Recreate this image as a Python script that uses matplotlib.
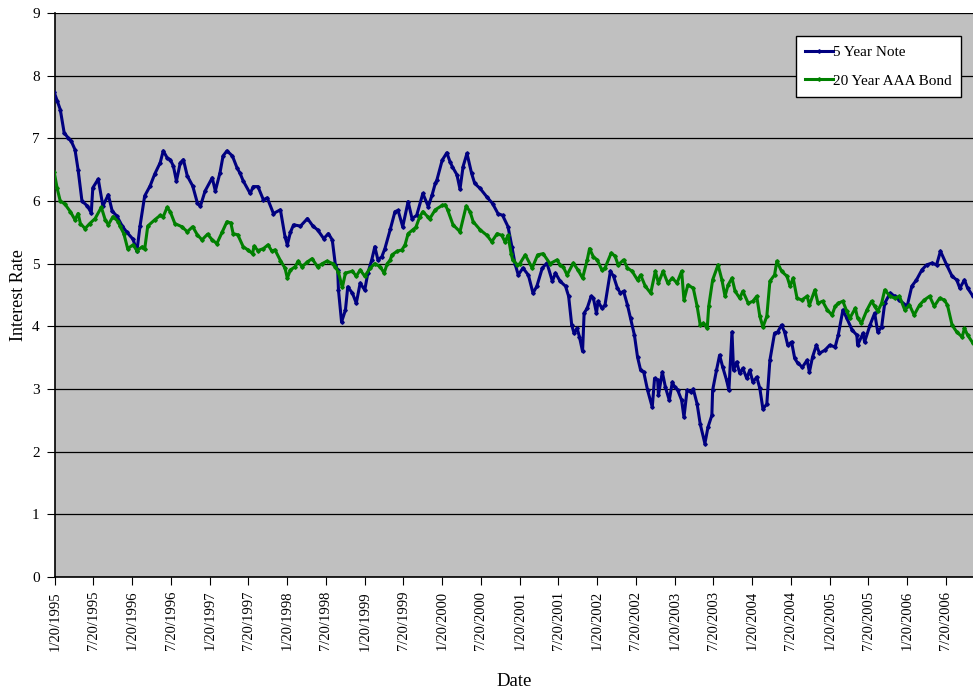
import matplotlib
matplotlib.use('Agg')
import matplotlib.pyplot as plt
from datetime import datetime, timedelta

plt.rcParams['font.family'] = ['Liberation Serif', 'DejaVu Serif']

# dates as decimal years, values in percent
note_t = [1995.04, 1995.08, 1995.12, 1995.17, 1995.22, 1995.26, 1995.31, 1995.35, 1995.40, 1995.47,
          1995.52, 1995.54, 1995.61, 1995.67, 1995.74, 1995.79, 1995.85, 1995.92, 1995.98, 1996.06,
          1996.11, 1996.15, 1996.21, 1996.28, 1996.34, 1996.41, 1996.45, 1996.50, 1996.54, 1996.58,
          1996.62, 1996.67, 1996.71, 1996.76, 1996.83, 1996.89, 1996.93, 1996.99, 1997.08, 1997.12,
          1997.18, 1997.22, 1997.27, 1997.34, 1997.40, 1997.44, 1997.48, 1997.57, 1997.61, 1997.67,
          1997.74, 1997.79, 1997.87, 1997.96, 1998.02, 1998.05, 1998.09, 1998.13, 1998.22, 1998.31,
          1998.38, 1998.44, 1998.52, 1998.58, 1998.63, 1998.67, 1998.70, 1998.71, 1998.75, 1998.80,
          1998.83, 1998.89, 1998.94, 1998.99, 1999.05, 1999.09, 1999.14, 1999.18, 1999.22, 1999.27,
          1999.31, 1999.38, 1999.44, 1999.48, 1999.54, 1999.61, 1999.66, 1999.72, 1999.80, 1999.87,
          1999.92, 1999.96, 1999.98, 2000.05, 2000.11, 2000.15, 2000.18, 2000.24, 2000.28, 2000.32,
          2000.37, 2000.43, 2000.47, 2000.54, 2000.63, 2000.70, 2000.77, 2000.83, 2000.90, 2000.95,
          2000.99, 2001.03, 2001.09, 2001.16, 2001.22, 2001.27, 2001.34, 2001.40, 2001.47, 2001.51,
          2001.57, 2001.64, 2001.68, 2001.72, 2001.75, 2001.79, 2001.82, 2001.86, 2001.88, 2001.92,
          2001.97, 2002.00, 2002.04, 2002.06, 2002.11, 2002.15, 2002.22, 2002.26, 2002.31, 2002.35,
          2002.39, 2002.44, 2002.48, 2002.53, 2002.57, 2002.61, 2002.65, 2002.70, 2002.76, 2002.79,
          2002.83, 2002.84, 2002.89, 2002.93, 2002.98, 2003.02, 2003.05, 2003.09, 2003.14, 2003.17,
          2003.21, 2003.26, 2003.29, 2003.34, 2003.38, 2003.44, 2003.48, 2003.53, 2003.54, 2003.59,
          2003.63, 2003.67, 2003.72, 2003.75, 2003.79, 2003.81, 2003.85, 2003.89, 2003.93, 2003.98,
          2004.02, 2004.06, 2004.11, 2004.15, 2004.19, 2004.24, 2004.28, 2004.34, 2004.38, 2004.43,
          2004.47, 2004.51, 2004.56, 2004.60, 2004.64, 2004.70, 2004.76, 2004.79, 2004.83, 2004.88,
          2004.92, 2004.99, 2005.05, 2005.12, 2005.16, 2005.22, 2005.27, 2005.34, 2005.40, 2005.41,
          2005.48, 2005.50, 2005.57, 2005.63, 2005.67, 2005.72, 2005.76, 2005.83, 2005.89, 2005.95,
          2006.05, 2006.11, 2006.17, 2006.24, 2006.30, 2006.37, 2006.43, 2006.48, 2006.56, 2006.63,
          2006.69, 2006.73, 2006.79, 2006.83, 2006.90]
note_v = [7.74, 7.60, 7.46, 7.09, 7.01, 6.96, 6.82, 6.50, 6.00, 5.92,
          5.81, 6.21, 6.35, 5.92, 6.10, 5.84, 5.76, 5.60, 5.50, 5.39,
          5.20, 5.60, 6.08, 6.24, 6.43, 6.61, 6.80, 6.69, 6.66, 6.56,
          6.32, 6.61, 6.66, 6.40, 6.24, 5.97, 5.92, 6.16, 6.37, 6.16,
          6.45, 6.72, 6.80, 6.72, 6.53, 6.44, 6.32, 6.12, 6.23, 6.23,
          6.02, 6.05, 5.80, 5.86, 5.43, 5.30, 5.50, 5.62, 5.60, 5.72,
          5.60, 5.54, 5.40, 5.48, 5.38, 4.98, 4.90, 4.58, 4.07, 4.26,
          4.63, 4.53, 4.37, 4.69, 4.58, 4.85, 5.06, 5.27, 5.06, 5.11,
          5.24, 5.55, 5.83, 5.85, 5.59, 5.99, 5.72, 5.77, 6.12, 5.91,
          6.10, 6.28, 6.33, 6.65, 6.77, 6.63, 6.55, 6.42, 6.19, 6.55,
          6.76, 6.44, 6.28, 6.20, 6.06, 5.96, 5.80, 5.77, 5.59, 5.27,
          5.00, 4.82, 4.93, 4.82, 4.53, 4.64, 4.93, 5.01, 4.72, 4.85,
          4.72, 4.64, 4.48, 4.02, 3.89, 3.97, 3.83, 3.60, 4.21, 4.29,
          4.48, 4.45, 4.21, 4.40, 4.29, 4.34, 4.88, 4.80, 4.61, 4.53,
          4.56, 4.34, 4.13, 3.86, 3.51, 3.30, 3.27, 2.98, 2.71, 3.17,
          3.14, 2.90, 3.27, 3.03, 2.82, 3.11, 3.03, 2.98, 2.82, 2.55,
          2.98, 2.95, 3.00, 2.76, 2.44, 2.13, 2.39, 2.58, 2.98, 3.30,
          3.54, 3.35, 3.14, 2.98, 3.91, 3.30, 3.43, 3.25, 3.33, 3.17,
          3.30, 3.11, 3.19, 3.01, 2.68, 2.76, 3.46, 3.89, 3.91, 4.02,
          3.91, 3.70, 3.75, 3.49, 3.41, 3.35, 3.46, 3.27, 3.51, 3.70,
          3.57, 3.62, 3.70, 3.67, 3.86, 4.26, 4.13, 3.94, 3.86, 3.70,
          3.89, 3.75, 4.02, 4.21, 3.91, 3.99, 4.37, 4.53, 4.48, 4.42,
          4.32, 4.64, 4.74, 4.90, 4.98, 5.01, 4.98, 5.20, 4.98, 4.80,
          4.74, 4.61, 4.74, 4.61, 4.48]

bond_t = [1995.04, 1995.08, 1995.12, 1995.18, 1995.25, 1995.31, 1995.35, 1995.38, 1995.44, 1995.50,
          1995.57, 1995.65, 1995.70, 1995.74, 1995.80, 1995.87, 1995.89, 1995.94, 1995.99, 1996.06,
          1996.11, 1996.18, 1996.21, 1996.25, 1996.34, 1996.41, 1996.45, 1996.50, 1996.54, 1996.60,
          1996.69, 1996.76, 1996.83, 1996.89, 1996.95, 1997.02, 1997.08, 1997.14, 1997.21, 1997.27,
          1997.32, 1997.35, 1997.41, 1997.48, 1997.54, 1997.60, 1997.62, 1997.67, 1997.74, 1997.80,
          1997.85, 1997.89, 1997.96, 1998.02, 1998.05, 1998.09, 1998.15, 1998.19, 1998.24, 1998.31,
          1998.37, 1998.44, 1998.50, 1998.56, 1998.64, 1998.67, 1998.71, 1998.76, 1998.80, 1998.89,
          1998.94, 1998.99, 1999.05, 1999.12, 1999.18, 1999.25, 1999.30, 1999.34, 1999.38, 1999.40,
          1999.47, 1999.53, 1999.57, 1999.61, 1999.67, 1999.71, 1999.76, 1999.80, 1999.87, 1999.89,
          1999.96, 2000.05, 2000.09, 2000.12, 2000.19, 2000.28, 2000.36, 2000.41, 2000.45, 2000.54,
          2000.63, 2000.69, 2000.76, 2000.82, 2000.86, 2000.90, 2000.94, 2000.96, 2001.02, 2001.05,
          2001.12, 2001.21, 2001.28, 2001.35, 2001.44, 2001.53, 2001.57, 2001.61, 2001.66, 2001.74,
          2001.80, 2001.86, 2001.92, 2001.95, 2002.00, 2002.05, 2002.11, 2002.15, 2002.23, 2002.28,
          2002.32, 2002.39, 2002.44, 2002.50, 2002.57, 2002.61, 2002.67, 2002.74, 2002.80, 2002.84,
          2002.90, 2002.96, 2003.02, 2003.08, 2003.14, 2003.17, 2003.22, 2003.29, 2003.34, 2003.38,
          2003.42, 2003.47, 2003.49, 2003.54, 2003.61, 2003.66, 2003.70, 2003.74, 2003.79, 2003.83,
          2003.89, 2003.93, 2004.00, 2004.06, 2004.11, 2004.15, 2004.19, 2004.24, 2004.28, 2004.34,
          2004.37, 2004.43, 2004.50, 2004.54, 2004.58, 2004.63, 2004.69, 2004.76, 2004.79, 2004.86,
          2004.90, 2004.96, 2005.02, 2005.08, 2005.12, 2005.16, 2005.22, 2005.27, 2005.31, 2005.38,
          2005.41, 2005.46, 2005.53, 2005.59, 2005.63, 2005.67, 2005.72, 2005.76, 2005.83, 2005.89,
          2005.95, 2006.02, 2006.08, 2006.14, 2006.21, 2006.27, 2006.34, 2006.40, 2006.47, 2006.53,
          2006.57, 2006.63, 2006.69, 2006.76, 2006.79, 2006.83, 2006.90]
bond_v = [6.47, 6.20, 6.00, 5.95, 5.83, 5.70, 5.80, 5.64, 5.56, 5.64,
          5.72, 5.90, 5.70, 5.62, 5.75, 5.67, 5.60, 5.48, 5.24, 5.30,
          5.21, 5.27, 5.23, 5.60, 5.70, 5.77, 5.75, 5.90, 5.83, 5.64,
          5.59, 5.51, 5.59, 5.46, 5.38, 5.47, 5.38, 5.32, 5.51, 5.67,
          5.65, 5.48, 5.46, 5.27, 5.22, 5.16, 5.28, 5.21, 5.24, 5.30,
          5.20, 5.22, 5.05, 4.93, 4.77, 4.90, 4.95, 5.04, 4.95, 5.03,
          5.08, 4.95, 5.00, 5.04, 5.00, 4.95, 4.86, 4.62, 4.85, 4.88,
          4.80, 4.90, 4.80, 4.93, 5.00, 4.95, 4.85, 5.00, 5.06, 5.14,
          5.20, 5.22, 5.30, 5.48, 5.54, 5.58, 5.75, 5.83, 5.74, 5.72,
          5.86, 5.93, 5.94, 5.86, 5.62, 5.51, 5.92, 5.83, 5.67, 5.54,
          5.45, 5.35, 5.48, 5.45, 5.35, 5.45, 5.16, 5.06, 4.98, 5.00,
          5.14, 4.93, 5.14, 5.16, 5.00, 5.06, 4.98, 4.95, 4.82, 5.01,
          4.90, 4.77, 5.06, 5.24, 5.11, 5.06, 4.90, 4.93, 5.17, 5.12,
          4.98, 5.06, 4.93, 4.88, 4.74, 4.82, 4.64, 4.53, 4.88, 4.69,
          4.88, 4.69, 4.77, 4.69, 4.88, 4.42, 4.66, 4.61, 4.32, 4.02,
          4.05, 3.97, 4.32, 4.74, 4.98, 4.74, 4.48, 4.66, 4.77, 4.56,
          4.45, 4.56, 4.37, 4.40, 4.48, 4.16, 3.99, 4.16, 4.72, 4.82,
          5.04, 4.88, 4.80, 4.64, 4.77, 4.45, 4.42, 4.48, 4.34, 4.58,
          4.37, 4.40, 4.26, 4.18, 4.32, 4.37, 4.40, 4.24, 4.13, 4.29,
          4.13, 4.05, 4.26, 4.40, 4.32, 4.24, 4.37, 4.58, 4.48, 4.45,
          4.48, 4.26, 4.34, 4.18, 4.34, 4.42, 4.48, 4.32, 4.45, 4.42,
          4.34, 4.02, 3.91, 3.83, 3.97, 3.86, 3.73]

tick_years = list(range(1995, 2007))


def to_date(t):
    year = int(t)
    return datetime(year, 1, 1) + timedelta(days=(t - year) * 365.25)


note_dates = [to_date(t) for t in note_t]
bond_dates = [to_date(t) for t in bond_t]

fig = plt.figure(figsize=(9.73, 6.92), dpi=100)
ax = fig.add_axes([55 / 973, 1 - 577 / 692, 1 - 55 / 973, (577 - 13) / 692])
ax.set_facecolor('#c0c0c0')

ax.plot(note_dates, note_v, color='#000080', lw=2.2, marker='D', ms=1.8,
        label='5 Year Note', zorder=3)
ax.plot(bond_dates, bond_v, color='#008000', lw=2.2, marker='D', ms=1.8,
        label='20 Year AAA Bond', zorder=3)

ticks = []
labels = []
for y in tick_years:
    for m in (1, 7):
        ticks.append(datetime(y, m, 20))
        labels.append(f'{m}/20/{y}')
ax.set_xticks(ticks)
ax.set_xticklabels(labels, rotation=90, fontsize=10.5)
ax.set_xlim(datetime(1995, 1, 20), to_date(2006.90))

ax.set_ylim(0, 9)
ax.set_yticks(range(10))
ax.tick_params(axis='y', labelsize=11, length=6, pad=5, direction='out')
ax.tick_params(axis='x', length=6, pad=4, direction='out')
ax.yaxis.grid(True, color='black', lw=0.9)
ax.set_axisbelow(True)

for s in ('top', 'right'):
    ax.spines[s].set_visible(False)
ax.spines['left'].set_linewidth(1.2)
ax.spines['bottom'].set_linewidth(1.2)

ax.set_ylabel('Interest Rate', fontsize=13, labelpad=4)
ax.set_xlabel('Date', fontsize=13.5, labelpad=16)

leg = ax.legend(loc='upper left', bbox_to_anchor=(796 / 973, 1 - 36 / 692),
                bbox_transform=fig.transFigure, borderaxespad=0, fontsize=11,
                fancybox=False, framealpha=1, edgecolor='black', handlelength=1.8,
                handletextpad=0.05, borderpad=0.6, labelspacing=1.0)
leg.get_frame().set_linewidth(1.0)

fig.savefig('out.png', dpi=100)
